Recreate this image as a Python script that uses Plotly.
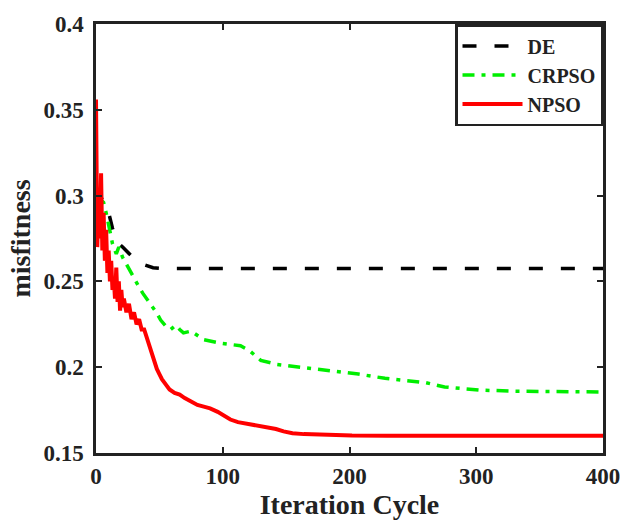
import plotly.graph_objects as go

de_iter = [0, 5, 10, 13, 16, 21, 29, 37, 45, 53, 70, 100, 200, 300, 400]
de_val = [0.305, 0.298, 0.29, 0.281, 0.2735, 0.27, 0.264, 0.26, 0.258, 0.2575,
          0.2575, 0.2575, 0.2575, 0.2575, 0.2575]

cr_iter = [0, 3, 6, 8, 10, 13, 16, 18, 21, 24, 29, 33, 37, 43, 48, 51, 55, 59, 63,
           66, 69, 75, 85, 98, 114, 121, 130, 143, 162, 188, 207, 228, 241, 260,
           275, 302, 330, 358, 400]
cr_val = [0.30, 0.298, 0.296, 0.29, 0.283, 0.272, 0.266, 0.27, 0.264, 0.26, 0.2525,
          0.248, 0.243, 0.237, 0.2315, 0.2275, 0.224, 0.222, 0.2245, 0.222, 0.22,
          0.221, 0.216, 0.214, 0.2125, 0.2097, 0.204, 0.2016, 0.2, 0.198, 0.196,
          0.1935, 0.1925, 0.191, 0.1885, 0.1867, 0.186, 0.186, 0.1856]

np_iter = [0, 1, 2, 3, 4, 5, 6, 7, 8, 9, 10, 11, 12, 13, 14, 15, 16, 17, 18, 19,
           20, 21, 22, 24, 26, 28, 30, 32, 34, 36, 38, 40, 42, 44, 46, 48, 50, 52,
           55, 58, 62, 66, 70, 75, 80, 85, 90, 96, 100, 106, 112, 118, 122, 128,
           135, 142, 148, 155, 164, 175, 190, 202, 230, 260, 300, 350, 400]
np_val = [0.356, 0.27, 0.30, 0.275, 0.313, 0.268, 0.29, 0.262, 0.28, 0.255, 0.268,
          0.25, 0.262, 0.245, 0.252, 0.24, 0.258, 0.238, 0.25, 0.233, 0.245, 0.235,
          0.24, 0.232, 0.237, 0.228, 0.232, 0.225, 0.228, 0.222, 0.222, 0.217,
          0.213, 0.208, 0.203, 0.199, 0.196, 0.193, 0.19, 0.187, 0.185, 0.184,
          0.182, 0.18, 0.178, 0.177, 0.176, 0.174, 0.172, 0.1695, 0.168, 0.1672,
          0.1667, 0.166, 0.1655, 0.164, 0.1626, 0.1615, 0.161, 0.1607, 0.1603,
          0.1602, 0.1601, 0.16, 0.16, 0.16, 0.16]

x_ticks = [0, 100, 200, 300, 400]
y_ticks = [0.15, 0.2, 0.25, 0.3, 0.35, 0.4]
y_tick_labels = ["0.15", "0.2", "0.25", "0.3", "0.35", "0.4"]

FONT = "Liberation Serif"
INK = "#222222"

fig = go.Figure()
fig.add_trace(go.Scatter(x=de_iter, y=de_val, mode="lines", name="<b>DE</b>",
                         line=dict(color="black", width=3.5, dash="14px,18px")))
fig.add_trace(go.Scatter(x=cr_iter, y=cr_val, mode="lines", name="<b>CRPSO</b>",
                         line=dict(color="#00ee00", width=3.5, dash="12px,7px,4px,7px")))
fig.add_trace(go.Scatter(x=np_iter, y=np_val, mode="lines", name="<b>NPSO</b>",
                         line=dict(color="#ff0000", width=4)))

axis_common = dict(showline=True, linecolor=INK, linewidth=2.5, mirror="allticks",
                   ticks="inside", ticklen=6, tickwidth=2, tickcolor=INK,
                   showgrid=False, zeroline=False,
                   tickfont=dict(family=FONT, size=23, color=INK))

fig.update_xaxes(range=[0, 400], tickvals=x_ticks, ticktext=[f"<b>{t}</b>" for t in x_ticks],
                 ticklabelstandoff=1,
                 title=dict(text="<b>Iteration Cycle</b>",
                            font=dict(family=FONT, size=28, color=INK), standoff=0),
                 **axis_common)
fig.update_yaxes(range=[0.15, 0.4], tickvals=y_ticks,
                 ticktext=[f"<b>{t}</b>" for t in y_tick_labels],
                 ticklabelstandoff=5,
                 title=dict(text="<b>misfitness</b>",
                            font=dict(family=FONT, size=28, color=INK), standoff=5),
                 **axis_common)

fig.update_layout(
    width=632, height=522,
    margin=dict(l=96, r=29, t=16, b=69),
    plot_bgcolor="white", paper_bgcolor="white",
    showlegend=True,
    legend=dict(x=1, y=1, xanchor="right", yanchor="top",
                bordercolor=INK, borderwidth=2.5, bgcolor="white",
                font=dict(family=FONT, size=20, color=INK),
                tracegroupgap=0, itemwidth=60),
)

fig.write_html("out.html")
